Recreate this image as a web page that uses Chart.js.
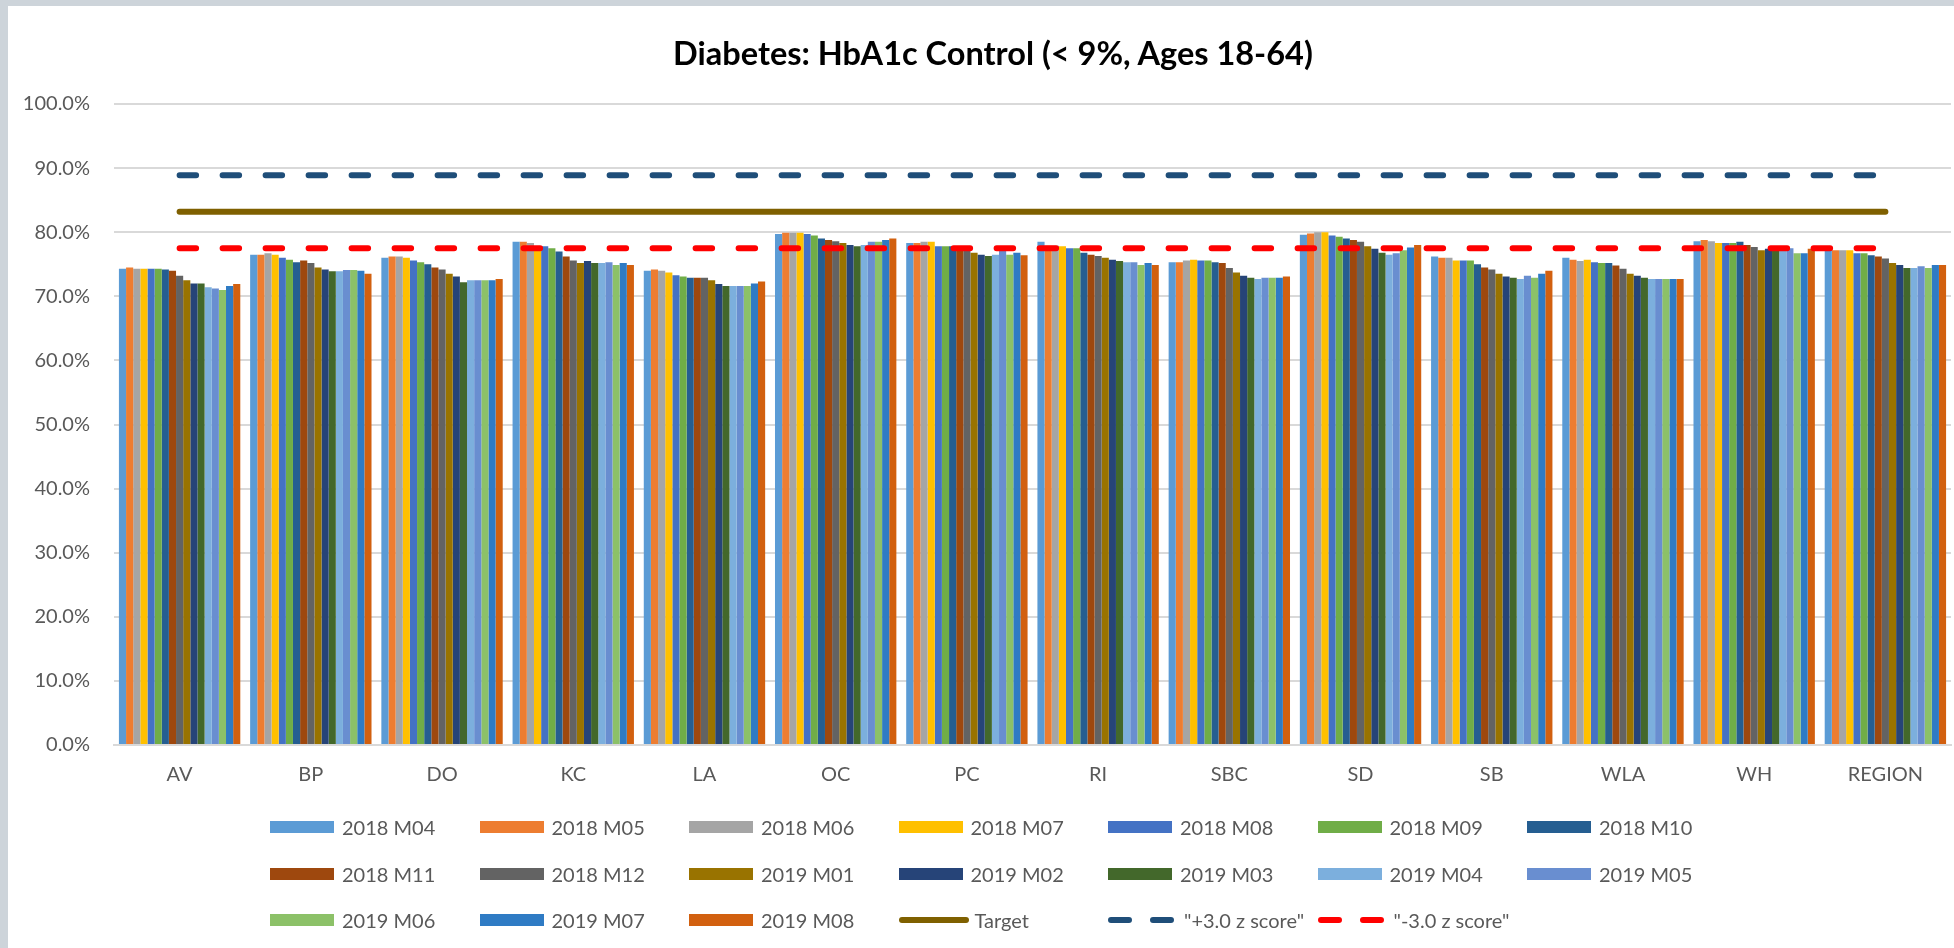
<!DOCTYPE html>
<html>
<head>
<meta charset="utf-8">
<script src="https://cdn.jsdelivr.net/npm/chart.js@4.4.0/dist/chart.umd.min.js"></script>
<style>
  html, body { margin: 0; padding: 0; background: #fff; }
  #wrap { position: relative; width: 1954px; height: 948px; overflow: hidden; }
  #edgeL { position: absolute; left: 0; top: 0; width: 8px; height: 948px; background: #cdd4da; }
  #edgeT { position: absolute; left: 0; top: 0; width: 1954px; height: 6px; background: #cdd4da; }
  #chart { position: absolute; left: 0; top: 0; }
  #title { position: absolute; left: 0; top: 33px; width: 1986px; height: 39px; line-height: 39px;
           text-align: center; font: bold 32.5px Lato, sans-serif; color: #000; white-space: nowrap; }
  #legend { position: absolute; left: 0; top: 0; width: 1954px; height: 948px; pointer-events: none; }
  .item { position: absolute; height: 24px; display: flex; align-items: center;
          font: 20px Lato, sans-serif; color: #595959; white-space: nowrap; }
  .item .sw { width: 64px; height: 12px; margin-right: 8px; }
  .item svg { margin-right: 6px; }
</style>
</head>
<body>
<div id="wrap">
  <canvas id="chart" width="1954" height="948"></canvas>
  <div id="title"></div>
  <div id="edgeL"></div>
  <div id="edgeT"></div>
  <div id="legend"></div>
</div>
<script>
const chartTitle = 'Diabetes: HbA1c Control (< 9%, Ages 18-64)';

// categories (x axis)
const categories = ['AV', 'BP', 'DO', 'KC', 'LA', 'OC', 'PC', 'RI', 'SBC', 'SD', 'SB', 'WLA', 'WH', 'REGION'];

// months (one bar series each)
const months = ['2018 M04', '2018 M05', '2018 M06', '2018 M07', '2018 M08', '2018 M09', '2018 M10',
                '2018 M11', '2018 M12', '2019 M01', '2019 M02', '2019 M03', '2019 M04', '2019 M05',
                '2019 M06', '2019 M07', '2019 M08'];
const monthColors = ['#5B9BD5', '#ED7D31', '#A5A5A5', '#FFC000', '#4472C4', '#70AD47', '#255E91',
                     '#9E480E', '#636363', '#997300', '#264478', '#43682B', '#7CAFDD', '#698ED0',
                     '#8CC168', '#2F7BC4', '#D2600F'];

// % values per site, one entry per month (2018 M04 .. 2019 M08)
const AV     = [74.3, 74.5, 74.3, 74.3, 74.3, 74.3, 74.2, 74.0, 73.2, 72.5, 72.0, 72.0, 71.4, 71.2, 71.0, 71.6, 71.9];
const BP     = [76.5, 76.5, 76.7, 76.5, 76.0, 75.7, 75.3, 75.6, 75.2, 74.5, 74.2, 73.9, 73.9, 74.1, 74.1, 74.0, 73.5];
const DO     = [76.0, 76.2, 76.2, 76.0, 75.6, 75.3, 75.0, 74.5, 74.2, 73.5, 73.1, 72.2, 72.5, 72.5, 72.5, 72.5, 72.7];
const KC     = [78.5, 78.5, 78.3, 77.8, 77.8, 77.5, 77.0, 76.2, 75.6, 75.2, 75.5, 75.2, 75.2, 75.3, 74.9, 75.2, 74.9];
const LA     = [74.0, 74.2, 74.0, 73.7, 73.3, 73.1, 72.9, 72.9, 72.9, 72.5, 71.9, 71.6, 71.6, 71.6, 71.6, 72.0, 72.3];
const OC     = [79.7, 79.9, 79.9, 79.9, 79.7, 79.5, 79.0, 78.8, 78.6, 78.3, 78.0, 77.8, 78.0, 78.5, 78.5, 78.8, 79.0];
const PC     = [78.3, 78.3, 78.5, 78.5, 77.8, 77.8, 77.8, 77.8, 77.4, 76.8, 76.5, 76.3, 76.5, 77.1, 76.5, 76.8, 76.4];
const RI     = [78.5, 77.9, 77.9, 77.8, 77.5, 77.5, 76.8, 76.5, 76.3, 76.0, 75.7, 75.5, 75.3, 75.3, 74.9, 75.2, 74.9];
const SBC    = [75.3, 75.3, 75.6, 75.7, 75.6, 75.6, 75.3, 75.2, 74.4, 73.7, 73.2, 72.9, 72.7, 72.9, 72.9, 72.9, 73.1];
const SD     = [79.6, 79.8, 80.0, 80.0, 79.5, 79.3, 79.0, 78.8, 78.5, 77.8, 77.4, 76.8, 76.5, 76.7, 77.2, 77.6, 78.0];
const SB     = [76.2, 76.0, 76.0, 75.6, 75.6, 75.6, 75.0, 74.5, 74.2, 73.5, 73.1, 72.9, 72.7, 73.2, 72.9, 73.5, 74.0];
const WLA    = [76.0, 75.7, 75.5, 75.7, 75.3, 75.2, 75.2, 74.8, 74.3, 73.5, 73.2, 72.9, 72.7, 72.7, 72.7, 72.7, 72.7];
const WH     = [78.6, 78.8, 78.6, 78.3, 78.3, 78.3, 78.5, 78.0, 77.7, 77.2, 77.4, 77.4, 77.1, 77.5, 76.7, 76.7, 77.4];
const REGION = [77.2, 77.2, 77.2, 77.2, 76.7, 76.7, 76.4, 76.2, 75.9, 75.2, 74.9, 74.4, 74.4, 74.7, 74.4, 74.9, 74.9];
const siteValues = [AV, BP, DO, KC, LA, OC, PC, RI, SBC, SD, SB, WLA, WH, REGION];

// reference lines
const target  = [83.2, 83.2, 83.2, 83.2, 83.2, 83.2, 83.2, 83.2, 83.2, 83.2, 83.2, 83.2, 83.2, 83.2];
const plus3z  = [88.9, 88.9, 88.9, 88.9, 88.9, 88.9, 88.9, 88.9, 88.9, 88.9, 88.9, 88.9, 88.9, 88.9];
const minus3z = [77.5, 77.5, 77.5, 77.5, 77.5, 77.5, 77.5, 77.5, 77.5, 77.5, 77.5, 77.5, 77.5, 77.5];

const FONT = 'Lato, sans-serif';
const TEXT = '#595959';

document.getElementById('title').textContent = chartTitle;

/* ── datasets ───────────────────────────────────────── */
const barSets = months.map((m, i) => ({
  type: 'bar',
  label: m,
  data: siteValues.map(site => site[i]),
  backgroundColor: monthColors[i],
  borderWidth: 0,
  barPercentage: 1.0,
  categoryPercentage: 0.925,
  order: 1,
}));

function refLine(label, data, color, dash) {
  return {
    type: 'line',
    label,
    data,
    borderColor: color,
    backgroundColor: color,
    borderWidth: 6,
    borderCapStyle: 'round',
    borderDash: dash,
    pointRadius: 0,
    fill: false,
    tension: 0,
    order: 0,
  };
}

const lineSets = [
  refLine('Target', target, '#7F6000', []),
  refLine('"+3.0 z score"', plus3z, '#1F4E79', [16.5, 26.5]),
  refLine('"-3.0 z score"', minus3z, '#FF0000', [16.5, 26.5]),
];

const chart = new Chart(document.getElementById('chart'), {
  type: 'bar',
  data: { labels: categories, datasets: [...barSets, ...lineSets] },
  options: {
    responsive: false,
    animation: false,
    // top padding leaves room for the title div, bottom for the legend
    layout: { padding: { left: 0, right: 3, top: 104, bottom: 151 } },
    plugins: {
      legend: { display: false },
      tooltip: { enabled: false },
      title: { display: false },
    },
    scales: {
      x: {
        offset: true,
        grid: { display: false },
        border: { display: true, color: '#d9d9d9', width: 2 },
        ticks: { color: TEXT, font: { family: FONT, size: 20 }, padding: 10, maxRotation: 0 },
      },
      y: {
        min: 0, max: 100,
        grid: { color: '#d9d9d9', lineWidth: 2, drawTicks: false },
        border: { display: false },
        ticks: {
          stepSize: 10,
          color: TEXT,
          padding: 24,
          font: { family: FONT, size: 20 },
          callback: v => v.toFixed(1) + '%',
        },
        afterFit: scale => { scale.width = 114; },
      },
    },
  },
});

/* ── HTML legend in fixed columns ───────────────────── */
const LEGEND_X = 270;
const LEGEND_COL = 209.5;
const LEGEND_ROWS = [827, 874, 920];

function buildLegend(ch) {
  const box = document.getElementById('legend');
  ch.data.datasets.forEach((ds, i) => {
    const col = i % 7, row = Math.floor(i / 7);
    const item = document.createElement('div');
    item.className = 'item';
    item.style.left = (LEGEND_X + col * LEGEND_COL) + 'px';
    item.style.top = (LEGEND_ROWS[row] - 12) + 'px';
    if (ds.type === 'bar') {
      const sw = document.createElement('div');
      sw.className = 'sw';
      sw.style.background = ds.backgroundColor;
      item.appendChild(sw);
    } else {
      const dash = ds.borderDash.length ? `stroke-dasharray="18 24"` : '';
      item.innerHTML = `<svg width="70" height="12"><line x1="3" y1="6" x2="67" y2="6" stroke="${ds.borderColor}" stroke-width="6" stroke-linecap="round" ${dash}/></svg>`;
    }
    const txt = document.createElement('span');
    txt.textContent = ds.label;
    item.appendChild(txt);
    box.appendChild(item);
  });
}
buildLegend(chart);
</script>
</body>
</html>
